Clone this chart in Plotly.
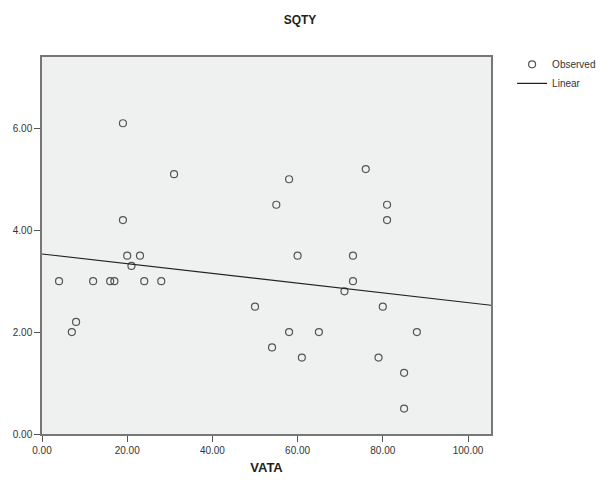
import numpy as np
import plotly.graph_objects as go

vata = [4, 7, 8, 12, 16, 17, 19, 19, 20, 21, 23, 24, 28, 31, 50, 54, 55, 58, 58, 60,
        61, 65, 71, 73, 73, 76, 79, 80, 81, 81, 85, 85, 88]
sqty = [3.0, 2.0, 2.2, 3.0, 3.0, 3.0, 6.1, 4.2, 3.5, 3.3, 3.5, 3.0, 3.0, 5.1, 2.5, 1.7, 4.5, 5.0, 2.0, 3.5,
        1.5, 2.0, 2.8, 3.5, 3.0, 5.2, 1.5, 2.5, 4.5, 4.2, 1.2, 0.5, 2.0]
x_ticks = [0, 20, 40, 60, 80, 100]
y_ticks = [0, 2, 4, 6]
x_range = [0, 105.4]
y_range = [0, 7.4]

slope, intercept = np.polyfit(vata, sqty, 1)
line_x = np.array(x_range)
line_y = intercept + slope * line_x

fig = go.Figure()
fig.add_trace(go.Scatter(
    x=vata, y=sqty, mode="markers", name="Observed",
    marker=dict(symbol="circle-open", size=7, color="#555555", line=dict(width=1.2, color="#555555")),
))
fig.add_trace(go.Scatter(
    x=line_x, y=line_y, mode="lines", name="Linear",
    line=dict(color="#222222", width=1.2),
))

# page body has an 8px margin, so the figure is 8px smaller and offset
fig.update_layout(
    width=602, height=477,
    margin=dict(l=34, r=119, t=49, b=51, autoexpand=False),
    paper_bgcolor="white", plot_bgcolor="#EFF0F0",
    font=dict(family="Liberation Sans, Arial, sans-serif", size=10, color="#222222"),
    title=dict(text="<b>SQTY</b>", x=292/602, xanchor="center", xref="container",
               y=1-12/477, yref="container", yanchor="middle",
               font=dict(size=12, color="#222222")),
    showlegend=True,
    legend=dict(x=1.047, y=1.019, xanchor="left", yanchor="top",
                bgcolor="rgba(0,0,0,0)", font=dict(size=10, color="#333333"),
                itemwidth=30, tracegroupgap=0),
)
fig.update_xaxes(
    range=x_range, tickvals=x_ticks, ticktext=[f"{v:.2f}" for v in x_ticks],
    ticks="outside", ticklen=6, tickcolor="#555555", showgrid=False, zeroline=False,
    showline=True, linecolor="#777777", linewidth=1.5, mirror=True, automargin=False,
    title=dict(text="<b>VATA</b>", font=dict(size=13, color="#222222"), standoff=8),
    tickfont=dict(size=10, color="#333333"),
)
fig.update_yaxes(
    range=y_range, tickvals=y_ticks, ticktext=[f"{v:.2f}" for v in y_ticks],
    ticks="outside", ticklen=6, tickcolor="#555555", showgrid=False, zeroline=False,
    showline=True, linecolor="#777777", linewidth=1.5, mirror=True, automargin=False,
    tickfont=dict(size=10, color="#333333"),
)
fig.write_html("out.html")
